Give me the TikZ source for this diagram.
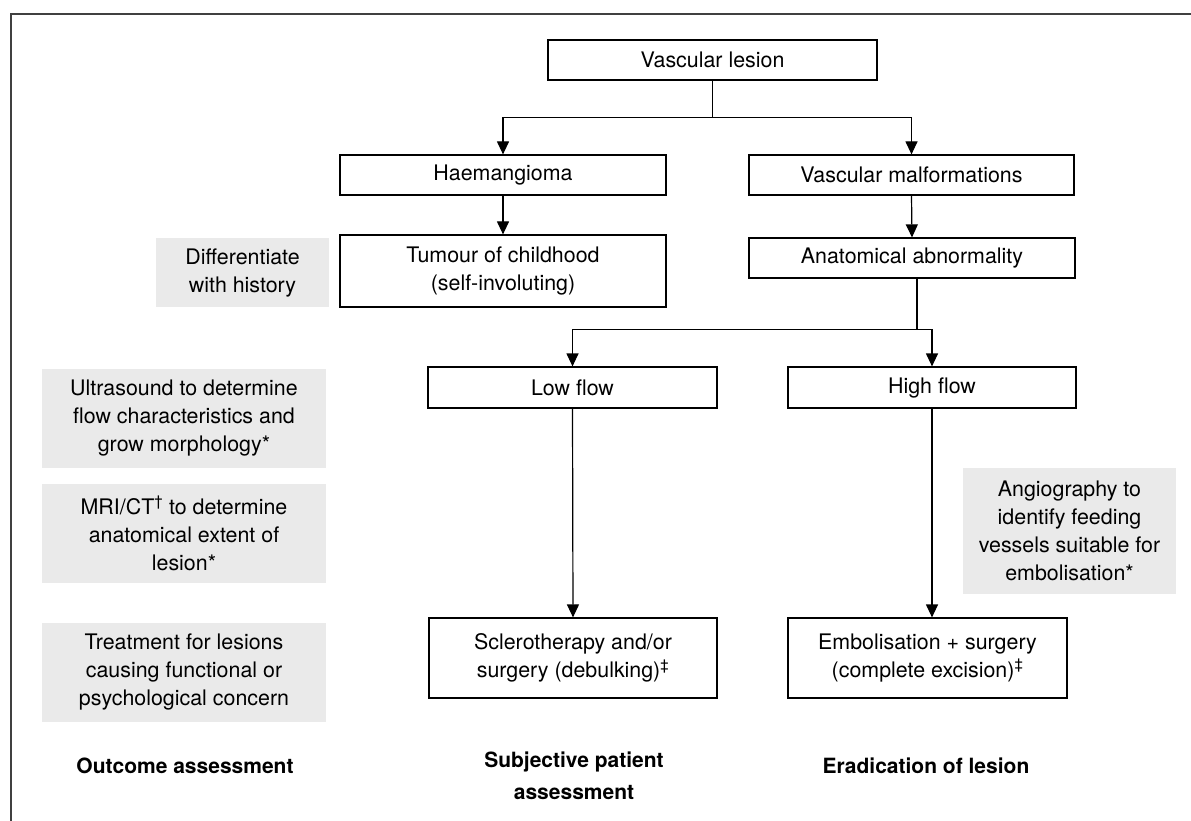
\documentclass[tikz,border=0pt]{standalone}
\usepackage{fontspec}
\setmainfont{TeX Gyre Heros}
\usetikzlibrary{arrows.meta}
\definecolor{notegrey}{RGB}{234,234,234}
\definecolor{framegrey}{RGB}{64,64,64}
\tikzset{
  txt/.style={align=center, inner sep=0pt, font=\fontsize{21.4}{28}\selectfont},
  box/.style={txt, draw, line width=1.2pt},
  note/.style={txt, fill=notegrey},
  foot/.style={txt, font=\fontsize{21}{28}\selectfont\bfseries},
  link/.style={line width=1.2pt},
  arr/.style={link, -{Triangle[length=13pt,width=12pt]}}
}
\begin{document}
\begin{tikzpicture}[x=1pt,y={(0pt,-1pt)}]
        \useasboundingbox (0,0) rectangle (1191,821);
        %% frame
        \draw[framegrey,line width=2pt] (1191,14) -- (11,14) -- (11,821);
        %% flow boxes
        \node[box,minimum width=329,minimum height=40] (lesion) at (712.5,60) {Vascular lesion};
        \node[box,minimum width=326,minimum height=40] (haem) at (503,175) {Haemangioma};
        \node[box,minimum width=325,minimum height=40] (malf) at (911.5,175) {Vascular malformations};
        \node[box,minimum width=326,minimum height=72] (tumour) at (503,271) {Tumour of childhood\\(self-involuting)};
        \node[box,minimum width=326,minimum height=40] (anat) at (912,258) {Anatomical abnormality};
        \node[box,minimum width=289,minimum height=41] (low) at (572.5,387.5) {Low flow};
        \node[box,minimum width=288,minimum height=41] (high) at (932,387.5) {High flow};
        \node[box,minimum width=288,minimum height=80] (scler) at (573,658) {Sclerotherapy and/or\\surgery (debulking)\textsuperscript{‡}};
        \node[box,minimum width=279,minimum height=80] (embol) at (927.5,658) {Embolisation + surgery\\(complete excision)\textsuperscript{‡}};
        %% grey notes
        \node[note,minimum width=173,minimum height=69] (diff) at (242.5,272.5) {Differentiate\\with history};
        \node[note,minimum width=284,minimum height=99] (ultra) at (184,418.5) {Ultrasound to determine\\flow characteristics and\\grow morphology*};
        \node[note,minimum width=284,minimum height=99] (mri) at (184,533.5) {MRI/CT\textsuperscript{†} to determine\\anatomical extent of\\lesion*};
        \node[note,minimum width=284,minimum height=99] (treat) at (184,672) {Treatment for lesions\\causing functional or\\psychological concern};
        \node[note,minimum width=213,minimum height=126] (angio) at (1069.5,531) {Angiography to\\identify feeding\\vessels suitable for\\embolisation*};
        %% bottom labels
        \node[foot] (outcome) at (185,766) {Outcome assessment};
        \node[foot,anchor=north] (subj) at (574,752) {Subjective patient\\[4pt]assessment};
        \node[foot] (erad) at (926,766) {Eradication of lesion};
        %% connectors
        \draw[link] (lesion.south) -- ++(0,37) coordinate (split1);
        \draw[arr] (split1) -| (haem.north);
        \draw[arr] (split1) -| (malf.north);
        \draw[arr] (haem.south) -- (tumour.north);
        \draw[arr] (malf.south) -- (anat.north);
        \draw[link] ([xshift=5pt]anat.south) -- ++(0,51) coordinate (split2);
        \draw[arr] (split2) -| (low.north);
        \draw[arr] (split2) -| (high.north);
        \draw[arr] (low.south) -- (scler.north);
        \draw[arr] (high.south) -- (high.south |- embol.north);
\end{tikzpicture}
\end{document}
